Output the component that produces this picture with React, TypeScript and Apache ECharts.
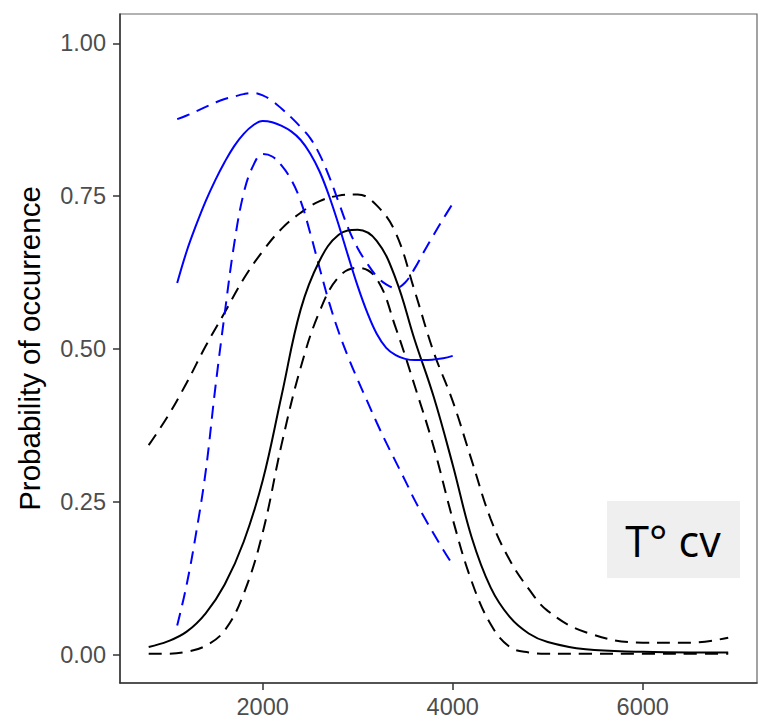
import React, { useEffect, useRef } from "react";
import * as echarts from "echarts";

// Elevation (x) grid for the black model
const blackX = [800, 1000, 1200, 1400, 1600, 1800, 2000, 2200, 2400, 2600, 2800, 3000, 3200, 3400, 3600, 3800, 4000, 4200, 4400, 4600, 4800, 5000, 5400, 6000, 6500, 6900];
const blackMean = [0.013, 0.022, 0.038, 0.068, 0.115, 0.185, 0.285, 0.425, 0.565, 0.645, 0.687, 0.695, 0.677, 0.615, 0.515, 0.422, 0.311, 0.192, 0.11, 0.062, 0.035, 0.021, 0.009, 0.005, 0.004, 0.004];
const blackLower = [0.002, 0.002, 0.005, 0.015, 0.04, 0.1, 0.2, 0.345, 0.47, 0.562, 0.618, 0.633, 0.615, 0.535, 0.44, 0.34, 0.222, 0.12, 0.05, 0.013, 0.004, 0.002, 0.002, 0.002, 0.002, 0.002];
const blackUpper = [0.343, 0.39, 0.445, 0.505, 0.56, 0.615, 0.66, 0.697, 0.723, 0.742, 0.751, 0.753, 0.735, 0.69, 0.595, 0.495, 0.415, 0.318, 0.222, 0.155, 0.108, 0.072, 0.037, 0.02, 0.02, 0.028];

// Elevation (x) grid for the blue model
const blueX = [1100, 1200, 1300, 1400, 1500, 1600, 1700, 1800, 1900, 2000, 2100, 2200, 2300, 2400, 2500, 2600, 2700, 2800, 2900, 3000, 3100, 3200, 3300, 3400, 3500, 3600, 3700, 3800, 3900, 4000];
const blueMean = [0.608, 0.66, 0.703, 0.742, 0.776, 0.806, 0.832, 0.852, 0.866, 0.873, 0.871, 0.865, 0.856, 0.842, 0.82, 0.79, 0.75, 0.703, 0.652, 0.603, 0.56, 0.525, 0.502, 0.49, 0.484, 0.482, 0.482, 0.483, 0.485, 0.489];
const blueLower = [0.048, 0.115, 0.2, 0.3, 0.435, 0.558, 0.672, 0.755, 0.8, 0.819, 0.815, 0.8, 0.777, 0.742, 0.69, 0.632, 0.576, 0.528, 0.487, 0.45, 0.415, 0.38, 0.347, 0.316, 0.285, 0.253, 0.225, 0.198, 0.172, 0.147];
const blueUpper = [0.876, 0.882, 0.889, 0.896, 0.903, 0.909, 0.913, 0.917, 0.919, 0.915, 0.906, 0.893, 0.879, 0.863, 0.845, 0.818, 0.782, 0.74, 0.698, 0.665, 0.64, 0.619, 0.606, 0.6, 0.609, 0.632, 0.66, 0.687, 0.713, 0.738];

const xTicks = [2000, 4000, 6000];
const yTicks = [0, 0.25, 0.5, 0.75, 1.0];
const yTitle = "Probability of occurrence";
const panelLabel = "T° cv";

const zip = (xs: number[], ys: number[]) => xs.map((x, i) => [x, ys[i]]);

const line = (name: string, data: number[][], color: string, dashed: boolean) => ({
  name,
  type: "line",
  data,
  showSymbol: false,
  symbol: "none",
  smooth: 0.4,
  silent: true,
  lineStyle: { color, width: 2, type: dashed ? [13, 8] : "solid", cap: "butt" },
  z: dashed ? 2 : 3,
});

const FONT = "Liberation Sans, Arial, sans-serif";

export default function App() {
  const ref = useRef<HTMLDivElement>(null);
  useEffect(() => {
    if (!ref.current) return;
    const chart = echarts.init(ref.current, undefined, { renderer: "svg" });
    chart.setOption({
      animation: false,
      backgroundColor: "#ffffff",
      textStyle: { fontFamily: FONT },
      grid: { left: 120, right: 7, top: 14, bottom: 38, show: true, borderColor: "#666", borderWidth: 1.2, backgroundColor: "#ffffff" },
      xAxis: {
        type: "value",
        min: 498,
        max: 7203,
        axisLine: { show: true, onZero: false, lineStyle: { color: "#333", width: 1.5 } },
        axisTick: { show: true, length: 7, customValues: xTicks, lineStyle: { color: "#333", width: 1.5 } },
        axisLabel: { customValues: xTicks, fontSize: 23.5, color: "#4d4d4d", margin: 12, formatter: (v: number) => String(v), fontFamily: FONT },
        splitLine: { show: false },
      },
      yAxis: {
        type: "value",
        min: -0.046,
        max: 1.048,
        name: yTitle,
        nameLocation: "middle",
        nameGap: 76,
        nameTextStyle: { fontSize: 29.5, color: "#000", fontFamily: FONT },
        axisLine: { show: true, onZero: false, lineStyle: { color: "#333", width: 1.5 } },
        axisTick: { show: true, length: 7, customValues: yTicks, lineStyle: { color: "#333", width: 1.5 } },
        axisLabel: { customValues: yTicks, fontSize: 23.5, color: "#4d4d4d", margin: 14, formatter: (v: number) => v.toFixed(2), fontFamily: FONT },
        splitLine: { show: false },
      },
      graphic: [
        { type: "rect", left: 607, top: 501, shape: { width: 133, height: 77 }, style: { fill: "#efefef" }, z: 10 },
        { type: "text", x: 673, y: 540, style: { text: panelLabel, fontSize: 43, fontFamily: "Open Sans, Noto Sans, sans-serif", fill: "#000", align: "center", verticalAlign: "middle" }, z: 11 },
      ],
      series: [
        line("black lower", zip(blackX, blackLower), "#000000", true),
        line("black upper", zip(blackX, blackUpper), "#000000", true),
        line("blue lower", zip(blueX, blueLower), "#0000ff", true),
        line("blue upper", zip(blueX, blueUpper), "#0000ff", true),
        line("black mean", zip(blackX, blackMean), "#000000", false),
        line("blue mean", zip(blueX, blueMean), "#0000ff", false),
      ],
    });
    return () => chart.dispose();
  }, []);
  return <div ref={ref} style={{ position: "fixed", left: 0, top: 0, width: 764, height: 721 }} />;
}
